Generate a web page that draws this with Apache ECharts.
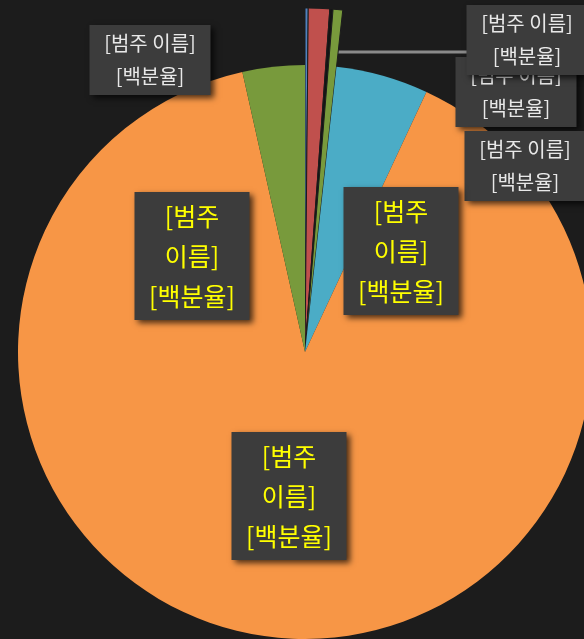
<!DOCTYPE html>
<html>
<head>
<meta charset="utf-8">
<script src="https://cdn.jsdelivr.net/npm/echarts@6/dist/echarts.min.js"></script>
<style>
  html, body { margin: 0; padding: 0; background: #1c1c1c; }
  #chart { width: 584px; height: 639px; }
</style>
</head>
<body>
<div id="chart"></div>
<script>
// slice data, clockwise from 12 o'clock
const categories = ['범주 1', '범주 2', '범주 3', '범주 4', '범주 5', '범주 6', '범주 7']
const values = [0.15, 1.0, 0.15, 0.45, 5.2, 89.5, 3.5]
const colors = ['#4f81bd', '#c0504d', '#141414', '#789a3c', '#4bacc6', '#f79646', '#789a3c']
// small slices are pulled out on the larger ring
const exploded = [true, true, true, true, false, false, false]

// where each data label box sits (center, px)
const labelPos = [[150, 60], [516, 92], [525, 166], [527, 40], [401, 251], [289, 496], [192, 256]]
// leader line of the 4th slice runs flat to its label
const leader = [[330, 52], [400, 52], [470, 52]]

const chart = echarts.init(document.getElementById('chart'))

const boxStyle = {
  show: true,
  fontFamily: 'Noto Sans CJK KR',
  align: 'center',
  backgroundColor: '#3c3c3c',
  shadowColor: 'rgba(0,0,0,0.7)',
  shadowBlur: 6,
  shadowOffsetX: 3,
  shadowOffsetY: 3
}

const outerLabel = Object.assign({}, boxStyle, {
  formatter: '[범주 이름]\n[백분율]',
  color: '#e8e8e8',
  fontSize: 20,
  lineHeight: 33,
  width: 117,
  padding: [2, 2]
})

const innerLabel = Object.assign({}, boxStyle, {
  formatter: '[범주\n이름]\n[백분율]',
  color: '#ffff00',
  fontSize: 25,
  lineHeight: 40,
  width: 111,
  padding: [4, 2]
})

const mainData = categories.map((name, i) => ({
  name,
  value: values[i],
  itemStyle: { color: exploded[i] ? 'transparent' : colors[i] },
  label: exploded[i] ? outerLabel : innerLabel,
  labelLine: {
    show: i === 3,
    lineStyle: { color: '#8a8a8a', width: 3 }
  }
}))

const ringData = categories.map((name, i) => ({
  name,
  value: values[i],
  itemStyle: exploded[i]
    ? { color: colors[i], borderColor: '#1c1c1c', borderWidth: 1 }
    : { color: 'transparent' }
}))

const option = {
  backgroundColor: '#1c1c1c',
  animation: false,
  series: [
    {
      type: 'pie',
      center: [305, 352],
      radius: [0, 344],
      startAngle: 90,
      clockwise: true,
      silent: true,
      label: { show: false },
      labelLine: { show: false },
      data: ringData
    },
    {
      type: 'pie',
      center: [305, 352],
      radius: [0, 287],
      startAngle: 90,
      clockwise: true,
      silent: true,
      avoidLabelOverlap: false,
      data: mainData,
      labelLayout: function (params) {
        const i = params.dataIndex
        const p = labelPos[i]
        const out = { x: p[0], y: p[1], align: 'center', verticalAlign: 'middle' }
        if (i === 3) out.labelLinePoints = leader
        return out
      }
    }
  ]
}

chart.setOption(option)
</script>
</body>
</html>
